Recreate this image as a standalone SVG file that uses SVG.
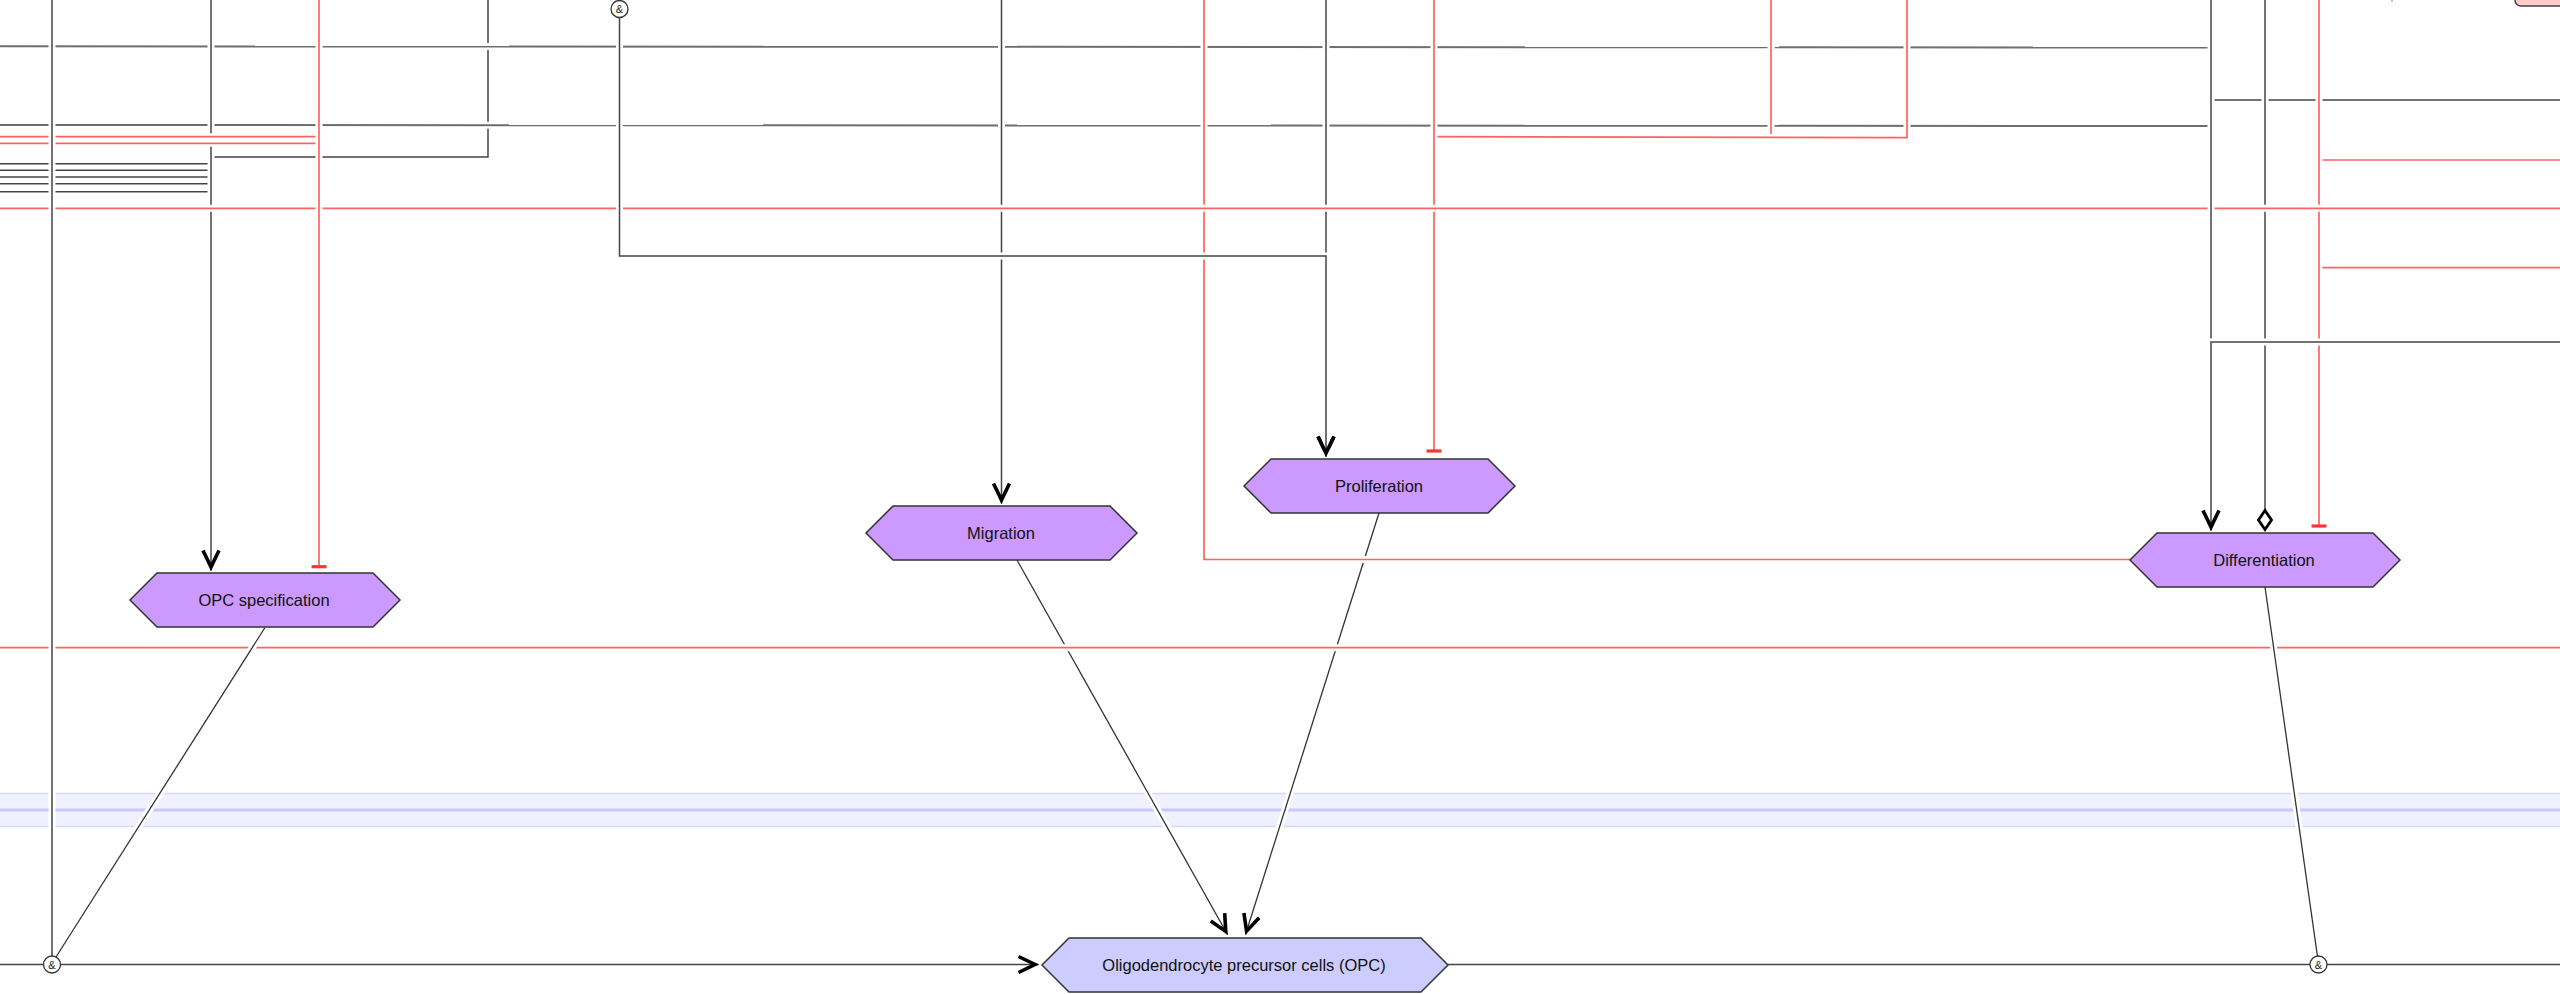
<svg xmlns="http://www.w3.org/2000/svg" xmlns:xlink="http://www.w3.org/1999/xlink" width="2560" height="994" viewBox="0 0 2560 994">
<style>
.halo{fill:none;stroke:#fff;stroke-width:7}
.k{fill:none;stroke:#444;stroke-width:1.5}
.gr{fill:none;stroke:#6e6e6e;stroke-width:2}
.thin{fill:none;stroke:#333;stroke-width:1.3}
.r{fill:none;stroke:#ff6262;stroke-width:1.7}
.arr{marker-end:url(#arrow)}
.inh{marker-end:url(#inhibit)}
.dia{marker-end:url(#diamond)}
.node{stroke:#333;stroke-width:1.5}
.proc{fill:#cc99ff}
.cell{fill:#ccccff}
.lbl{font-family:"Liberation Sans",Arial,sans-serif;font-size:16.5px;fill:#111;text-anchor:middle}
.anchor{fill:#fff;stroke:#333;stroke-width:1.3}
.amp{font-family:"Liberation Sans",Arial,sans-serif;font-size:11px;fill:#222;text-anchor:middle}
</style>
<defs>
<marker id="arrow" markerUnits="userSpaceOnUse" orient="auto" refX="0" refY="0" markerWidth="30" markerHeight="30" style="overflow:visible">
<path d="M-20,-8 L-3.5,0 L-20,8" fill="none" stroke="#000" stroke-width="3.6"/>
</marker>
<marker id="inhibit" markerUnits="userSpaceOnUse" orient="auto" refX="0" refY="0" markerWidth="30" markerHeight="30" style="overflow:visible">
<path d="M0,-7.5 L0,7.5" fill="none" stroke="#ff3333" stroke-width="3.2"/>
</marker>
<marker id="diamond" markerUnits="userSpaceOnUse" orient="auto" refX="0" refY="0" markerWidth="30" markerHeight="30" style="overflow:visible">
<path d="M-1.5,0 L-11,-6.5 L-20.5,0 L-11,6.5 Z" fill="#fff" stroke="#000" stroke-width="2.8"/>
</marker>
<path id="c1" d="M0,46.3 L2211,47.5"/>
<path id="c2" d="M0,125 L2211,126"/>
<path id="c3" d="M488,0 V157 H211"/>
<path id="c4" d="M0,163.7 H211"/>
<path id="c5" d="M0,170.3 H211"/>
<path id="c6" d="M0,177 H211"/>
<path id="c7" d="M0,183.7 H211"/>
<path id="c8" d="M0,191.7 H211"/>
<path id="c9" d="M1017,560 L1227.5,934.5"/>
<path id="c10" d="M1379,513 L1245.5,934.5"/>
<path id="c11" d="M211,0 V570.5"/>
<path id="c12" d="M1001.5,0 V503.5"/>
<path id="c13" d="M1326,0 V456.5"/>
<path id="c14" d="M1204,0 V559.5 H2130"/>
<path id="c16" d="M1771,0 V137"/>
<path id="c17" d="M1907,0 V137.7 L1434,136.7"/>
<path id="c15" d="M1434,0 V451"/>
<path id="c18" d="M2560,100 H2211"/>
<path id="c19" d="M2560,160 H2319"/>
<path id="c20" d="M2560,267.7 H2319"/>
<path id="c21" d="M2265,0 V531"/>
<path id="c22" d="M2319,0 V526"/>
<path id="c24a" d="M0,136.7 H319"/>
<path id="c24b" d="M0,143.3 H319"/>
<path id="c25" d="M0,208.3 H2560"/>
<path id="c26" d="M619.5,17.5 V256 H1326 V456.5"/>
<path id="c27" d="M319,0 V566.7"/>
<path id="c28" d="M2211,0 V342"/>
<path id="c23" d="M2560,342 H2211 V530.5"/>
<path id="c30" d="M0,647.7 H2560"/>
<path id="c31" d="M265,627.5 L56,957"/>
<path id="c32" d="M2265,587 L2317.5,956.5"/>
<path id="c29" d="M52,0 V956"/>
<path id="c33" d="M0,964.5 H1038.5"/>
<path id="c34" d="M1448,964.5 H2560"/>
</defs>
<rect x="0" y="0" width="2560" height="994" fill="#fff"/>
<g id="lane">
<rect x="0" y="793" width="2560" height="34" fill="#f0f0ff"/>
<line x1="0" y1="793.5" x2="2560" y2="793.5" stroke="#d8d8ff" stroke-width="1.5"/>
<line x1="0" y1="826.5" x2="2560" y2="826.5" stroke="#d8d8ff" stroke-width="1.5"/>
<line x1="0" y1="810" x2="2560" y2="810" stroke="#c8c8ff" stroke-width="3"/>
</g>
<g id="connectors">
<use href="#c3" class="halo"/><use href="#c3" class="k"/>
<use href="#c1" class="halo"/><use href="#c1" class="gr"/>
<use href="#c2" class="halo"/><use href="#c2" class="gr"/>
<use href="#c4" class="halo"/><use href="#c4" class="k"/>
<use href="#c5" class="halo"/><use href="#c5" class="k"/>
<use href="#c6" class="halo"/><use href="#c6" class="k"/>
<use href="#c7" class="halo"/><use href="#c7" class="k"/>
<use href="#c8" class="halo"/><use href="#c8" class="k"/>
<use href="#c9" class="halo"/><use href="#c9" class="thin arr"/>
<use href="#c10" class="halo"/><use href="#c10" class="thin arr"/>
<use href="#c11" class="halo"/><use href="#c11" class="k arr"/>
<use href="#c12" class="halo"/><use href="#c12" class="k arr"/>
<use href="#c13" class="halo"/><use href="#c13" class="k arr"/>
<use href="#c14" class="halo"/><use href="#c14" class="r"/>
<use href="#c16" class="halo"/><use href="#c16" class="r"/>
<use href="#c17" class="halo"/><use href="#c17" class="r"/>
<use href="#c15" class="halo"/><use href="#c15" class="r inh"/>
<use href="#c18" class="halo"/><use href="#c18" class="k"/>
<use href="#c19" class="halo"/><use href="#c19" class="r"/>
<use href="#c20" class="halo"/><use href="#c20" class="r"/>
<use href="#c21" class="halo"/><use href="#c21" class="k dia"/>
<use href="#c22" class="halo"/><use href="#c22" class="r inh"/>
<use href="#c24a" class="halo"/><use href="#c24a" class="r"/>
<use href="#c24b" class="halo"/><use href="#c24b" class="r"/>
<use href="#c25" class="halo"/><use href="#c25" class="r"/>
<use href="#c26" class="halo"/><use href="#c26" class="k arr"/>
<use href="#c27" class="halo"/><use href="#c27" class="r inh"/>
<use href="#c28" class="halo"/><use href="#c28" class="k"/>
<use href="#c23" class="halo"/><use href="#c23" class="k arr"/>
<use href="#c30" class="halo"/><use href="#c30" class="r"/>
<use href="#c31" class="halo"/><use href="#c31" class="thin"/>
<use href="#c32" class="halo"/><use href="#c32" class="thin"/>
<use href="#c29" class="halo"/><use href="#c29" class="k"/>
<use href="#c33" class="k arr"/>
<use href="#c34" class="k"/>
<line x1="2392" y1="0" x2="2392" y2="2" stroke="#999" stroke-width="1.2"/>
</g>
<g id="and1"><circle class="anchor" cx="619.5" cy="9" r="8.5"/><text class="amp" x="619.5" y="13">&amp;</text></g>
<g id="and2"><circle class="anchor" cx="52" cy="964.5" r="8.5"/><text class="amp" x="52" y="968.5">&amp;</text></g>
<g id="and3"><circle class="anchor" cx="2318.5" cy="964.5" r="8.5"/><text class="amp" x="2318.5" y="968.5">&amp;</text></g>
<g id="offscreen-node"><rect x="2515" y="-30" width="80" height="36" rx="6" fill="#ffcccc" stroke="#444" stroke-width="1.5"/></g>
<g id="opc-specification">
<path class="node proc" d="M130,600 L157,573 L373,573 L400,600 L373,627 L157,627 Z"/>
<text class="lbl" x="264" y="606">OPC specification</text>
</g>
<g id="migration">
<path class="node proc" d="M866,533 L893,506 L1110,506 L1137,533 L1110,560 L893,560 Z"/>
<text class="lbl" x="1001" y="539">Migration</text>
</g>
<g id="proliferation">
<path class="node proc" d="M1244,486 L1271,459 L1488,459 L1515,486 L1488,513 L1271,513 Z"/>
<text class="lbl" x="1379" y="492">Proliferation</text>
</g>
<g id="differentiation">
<path class="node proc" d="M2130,560 L2157,533 L2373,533 L2400,560 L2373,587 L2157,587 Z"/>
<text class="lbl" x="2264" y="566">Differentiation</text>
</g>
<g id="opc">
<path class="node cell" d="M1042,965 L1069,938 L1421,938 L1448,965 L1421,992 L1069,992 Z"/>
<text class="lbl" x="1244" y="971">Oligodendrocyte precursor cells (OPC)</text>
</g>
</svg>
